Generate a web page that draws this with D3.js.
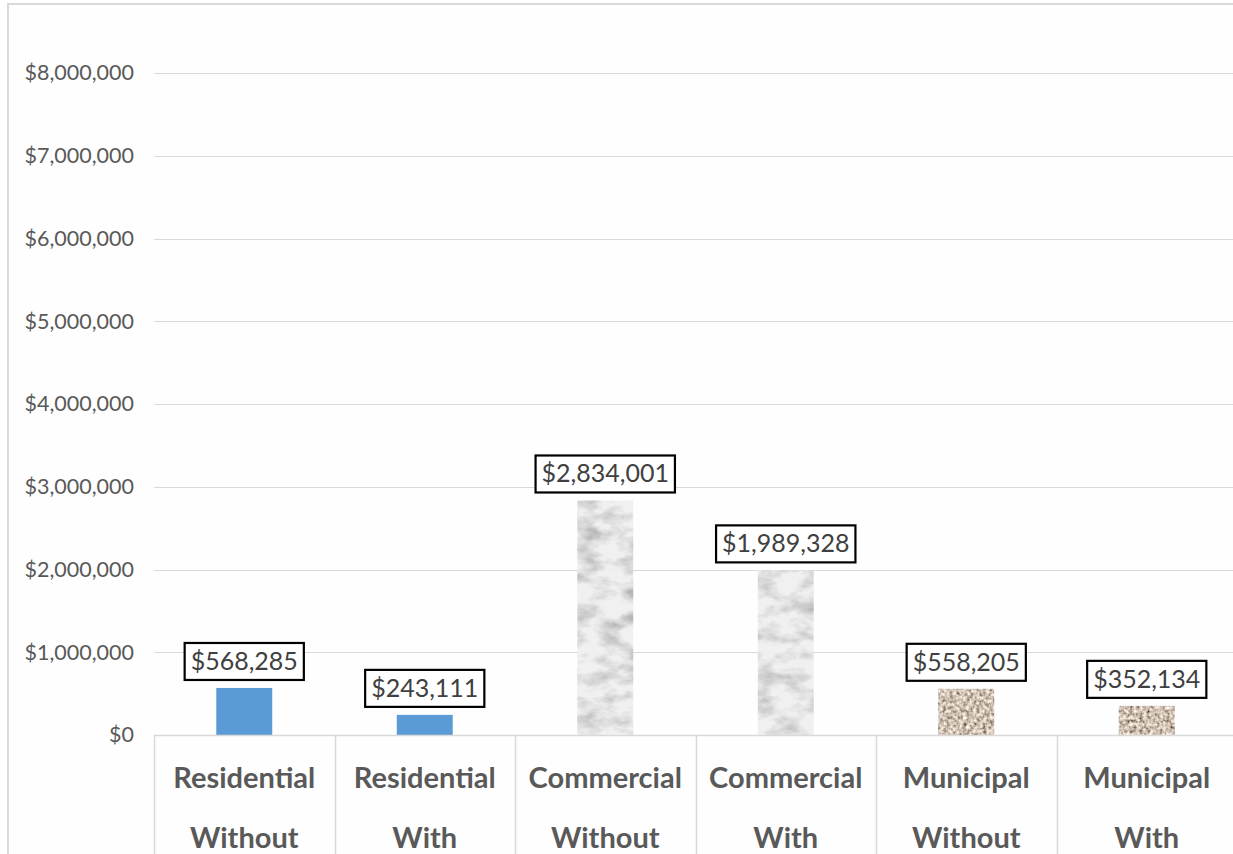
<!DOCTYPE html>
<html><head><meta charset="utf-8">
<script src="https://cdn.jsdelivr.net/npm/d3@7"></script>
<style>html,body{margin:0;padding:0;background:#fff;overflow:hidden}</style>
</head><body>
<svg id="chart" width="1233" height="854"></svg>
<script>
const categories = ["Residential Without","Residential With","Commercial Without","Commercial With","Municipal Without","Municipal With"];
const values = [568285, 243111, 2834001, 1989328, 558205, 352134];
const fills = ["blue","blue","marble","marble","granite","granite"];
const yTicks = [0,1000000,2000000,3000000,4000000,5000000,6000000,7000000,8000000];
const title = "Average Cost Savings Without and With Efficiency Upgrades by Category";

const svg = d3.select("#chart");
const defs = svg.append("defs");

// marble texture
const fm = defs.append("filter").attr("id","marble").attr("x",0).attr("y",0).attr("width",1).attr("height",1);
fm.append("feTurbulence").attr("type","fractalNoise").attr("baseFrequency","0.04 0.07").attr("numOctaves",4).attr("seed",7).attr("result","t");
fm.append("feColorMatrix").attr("in","t").attr("type","matrix")
  .attr("values","0 0 0 0 0  0 0 0 0 0  0 0 0 0 0  -1.9 -0.3 0 0 1.3").attr("result","m");
fm.append("feFlood").attr("flood-color","#f0f0f0").attr("result","bg");
fm.append("feFlood").attr("flood-color","#8f8f8f").attr("result","dk");
fm.append("feComposite").attr("in","dk").attr("in2","m").attr("operator","in").attr("result","dkm");
fm.append("feComponentTransfer").attr("in","dkm").attr("result","dkm2")
  .append("feFuncA").attr("type","linear").attr("slope",0.75);
fm.append("feMerge").call(m=>{m.append("feMergeNode").attr("in","bg");m.append("feMergeNode").attr("in","dkm2");})
  .attr("result","mm");
fm.append("feComposite").attr("in","mm").attr("in2","SourceGraphic").attr("operator","in");

// granite texture
const fg = defs.append("filter").attr("id","granite").attr("x",0).attr("y",0).attr("width",1).attr("height",1);
fg.append("feTurbulence").attr("type","fractalNoise").attr("baseFrequency","0.3").attr("numOctaves",2).attr("seed",3).attr("result","t");
fg.append("feColorMatrix").attr("in","t").attr("type","matrix")
  .attr("values","1.5 0 0 0 -0.13  1.4 0 0 0 -0.17  1.3 0 0 0 -0.2  0 0 0 0 1").attr("result","c");
fg.append("feComposite").attr("in","c").attr("in2","SourceGraphic").attr("operator","in");

// frame
svg.append("rect").attr("x",8).attr("y",4).attr("width",1300).attr("height",900)
  .attr("fill","#fefefe").attr("stroke","#d9d9d9").attr("stroke-width",2);

// title (mostly above the visible area, as in the reference)
svg.append("text").attr("x",620).attr("y",-5).attr("text-anchor","middle")
  .attr("font-family","Lato, 'Open Sans', sans-serif").attr("font-weight","bold").attr("font-size",30)
  .attr("fill","#000").text(title);

const x = d3.scaleBand().domain(categories).range([154,1237]).paddingInner(0.69).paddingOuter(0.345);
const xb = d3.scaleBand().domain(categories).range([154,1237]).padding(0);
const y = d3.scaleLinear().domain([0,8000000]).range([735,73]);
const fmt = v => "$" + d3.format(",")(v);

// gridlines
svg.append("g").selectAll("line").data(yTicks.slice(1)).join("line")
  .attr("x1",154).attr("x2",1240).attr("y1",d=>Math.round(y(d))+0.5).attr("y2",d=>Math.round(y(d))+0.5)
  .attr("stroke","#d9d9d9").attr("stroke-width",1);

// y axis labels
const yAxis = svg.append("g").attr("transform","translate(144,0)")
  .call(d3.axisLeft(y).tickValues(yTicks).tickFormat(fmt).tickSize(0).tickPadding(10));
yAxis.select(".domain").remove();
yAxis.selectAll("text").attr("font-family","Lato, 'Open Sans', sans-serif").attr("font-size",21.5).attr("fill","#595959");

// bars
svg.append("g").selectAll("rect").data(categories).join("rect")
  .attr("x",d=>x(d)).attr("width",x.bandwidth())
  .attr("y",(d,i)=>y(values[i])).attr("height",(d,i)=>y(0)-y(values[i]))
  .attr("fill",(d,i)=>fills[i]==="blue"?"#5b9bd5":"#ccc")
  .attr("filter",(d,i)=>fills[i]==="blue"?null:`url(#${fills[i]})`);

// x axis line and separators
svg.append("line").attr("x1",154).attr("x2",1240).attr("y1",735.5).attr("y2",735.5).attr("stroke","#d9d9d9").attr("stroke-width",1.5);
const seps = categories.map(c=>xb(c)).concat([xb(categories[5])+xb.bandwidth()]);
svg.append("g").selectAll("line").data(seps).join("line")
  .attr("x1",d=>Math.round(d)+0.5).attr("x2",d=>Math.round(d)+0.5).attr("y1",735).attr("y2",860)
  .attr("stroke","#d9d9d9").attr("stroke-width",1.5);

// category labels
const cl = svg.append("g").selectAll("text").data(categories).join("text")
  .attr("x",d=>xb(d)+xb.bandwidth()/2).attr("text-anchor","middle")
  .attr("font-family","Lato, 'Open Sans', sans-serif").attr("font-weight","bold").attr("font-size",29).attr("fill","#595959");
cl.append("tspan").attr("x",d=>xb(d)+xb.bandwidth()/2).attr("y",788).text(d=>d.split(" ")[0]);
cl.append("tspan").attr("x",d=>xb(d)+xb.bandwidth()/2).attr("y",848).text(d=>d.split(" ")[1]);

// data labels
const lg = svg.append("g").selectAll("g").data(categories).join("g")
  .attr("transform",(d,i)=>`translate(${x(d)+x.bandwidth()/2},${y(values[i])-8})`);
lg.append("text").attr("text-anchor","middle").attr("y",-10)
  .attr("font-family","Lato, 'Open Sans', sans-serif").attr("font-size",25).attr("fill","#404040")
  .text((d,i)=>fmt(values[i]));
lg.each(function(){
  const g = d3.select(this);
  const bb = g.select("text").node().getBBox();
  g.insert("rect","text").attr("x",bb.x-6).attr("y",-37).attr("width",bb.width+12).attr("height",37)
    .attr("fill","#fff").attr("stroke","#000").attr("stroke-width",2.2);
});
</script>
</body></html>
